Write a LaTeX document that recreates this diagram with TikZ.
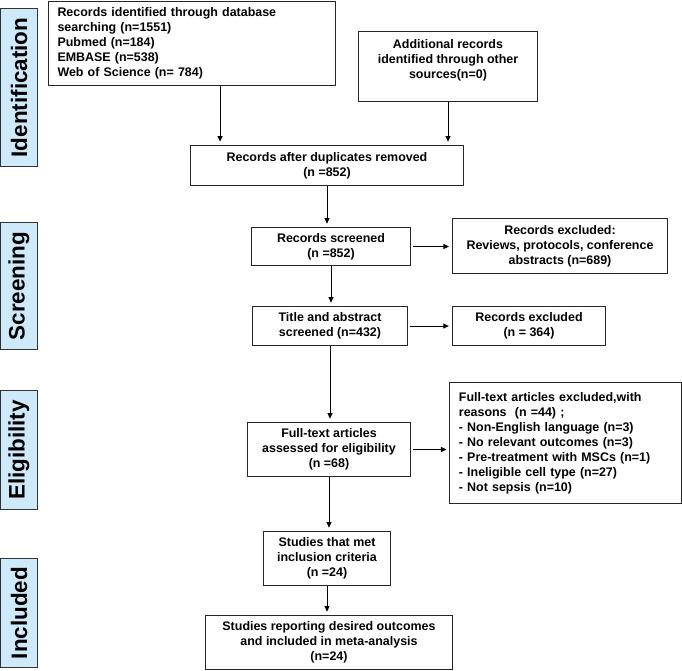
\documentclass[tikz,border=0pt]{standalone}
\usepackage{fontspec}
\setmainfont{Liberation Sans}
\usetikzlibrary{arrows.meta}
\definecolor{sideblue}{RGB}{205,233,250}

\begin{document}
\begin{tikzpicture}[x=1bp,y=-1bp,
    box/.style={draw=black!85, line width=0.9bp, align=center, inner sep=0pt,
      font=\bfseries\fontsize{12.5}{15}\selectfont},
    side/.style={draw=black!80, line width=0.9bp, fill=sideblue, rotate=90,
      minimum height=37, inner sep=0pt, font=\bfseries\fontsize{22.5}{27}\selectfont},
    arr/.style={-{Triangle[length=5.5bp,width=5bp]}, line width=0.9bp, shorten >=3bp}]
  \useasboundingbox (0,0) rectangle (682,671);
  % stage labels
  \node[side, minimum width=159] (ident) at (19,87.5) {Identification};
  \node[side, minimum width=128] (screen) at (19,286) {Screening};
  \node[side, minimum width=120] (elig) at (19,450) {Eligibility};
  \node[side, minimum width=110] (incl) at (19,613) {Included};
  % boxes
  \node[box, align=left, text width=270, inner xsep=9, minimum height=85] (db) at (192,43.5)
    {Records identified through database\\searching (n=1551)\\Pubmed (n=184)\\EMBASE (n=538)\\Web of Science (n= 784)};
  \node[box, minimum width=180, minimum height=71] (other) at (448,66.5)
    {Additional records\\identified through other\\sources(n=0)\\\mbox{}};
  \node[box, minimum width=274, minimum height=41] (dup) at (327,165.5)
    {Records after duplicates removed\\(n =852)};
  \node[box, minimum width=160, minimum height=39] (scr) at (331,246.5)
    {Records screened\\(n =852)};
  \node[box, minimum width=216, minimum height=56] (exA) at (560,246)
    {Records excluded:\\Reviews, protocols, conference\\abstracts (n=689)};
  \node[box, minimum width=156, minimum height=40] (tas) at (330,326)
    {Title and abstract\\screened (n=432)};
  \node[box, minimum width=154, minimum height=40] (exB) at (529,326)
    {Records excluded\\(n = 364)};
  \node[box, minimum width=164, minimum height=55] (full) at (329,449.5)
    {Full-text articles\\assessed for eligibility\\(n =68)};
  \node[box, align=left, text width=214, inner xsep=9, minimum height=122] (exC) at (565.5,443)
    {Full-text articles excluded,with\\reasons~~(n =44) ;\\- Non-English language (n=3)\\- No relevant outcomes (n=3)\\- Pre-treatment with MSCs (n=1)\\- Ineligible cell type (n=27)\\- Not sepsis (n=10)};
  \node[box, minimum width=128, minimum height=55] (met) at (327,558.5)
    {Studies that met\\inclusion criteria\\(n =24)};
  \node[box, minimum width=248, minimum height=55] (meta) at (329,642.5)
    {Studies reporting desired outcomes\\and included in meta-analysis\\(n=24)};
  % arrows
  \coordinate (dbin) at ([xshift=30bp]dup.north west);
  \draw[arr] (dbin |- db.south) -- (dbin);
  \draw[arr] (other.south) -- (other.south |- dup.north);
  \draw[arr] (dup.south) -- (dup.south |- scr.north);
  \draw[arr] (scr.south) -- (scr.south |- tas.north);
  \draw[arr] (tas.south) -- (tas.south |- full.north);
  \draw[arr] (full.south) -- (full.south |- met.north);
  \draw[arr] (met.south) -- (met.south |- meta.north);
  \draw[arr, shorten <=2bp] (scr.east) -- (scr.east -| exA.west);
  \draw[arr, shorten <=2bp] (tas.east) -- (tas.east -| exB.west);
  \draw[arr, shorten <=2bp] (full.east) -- (full.east -| exC.west);
\end{tikzpicture}
\end{document}
